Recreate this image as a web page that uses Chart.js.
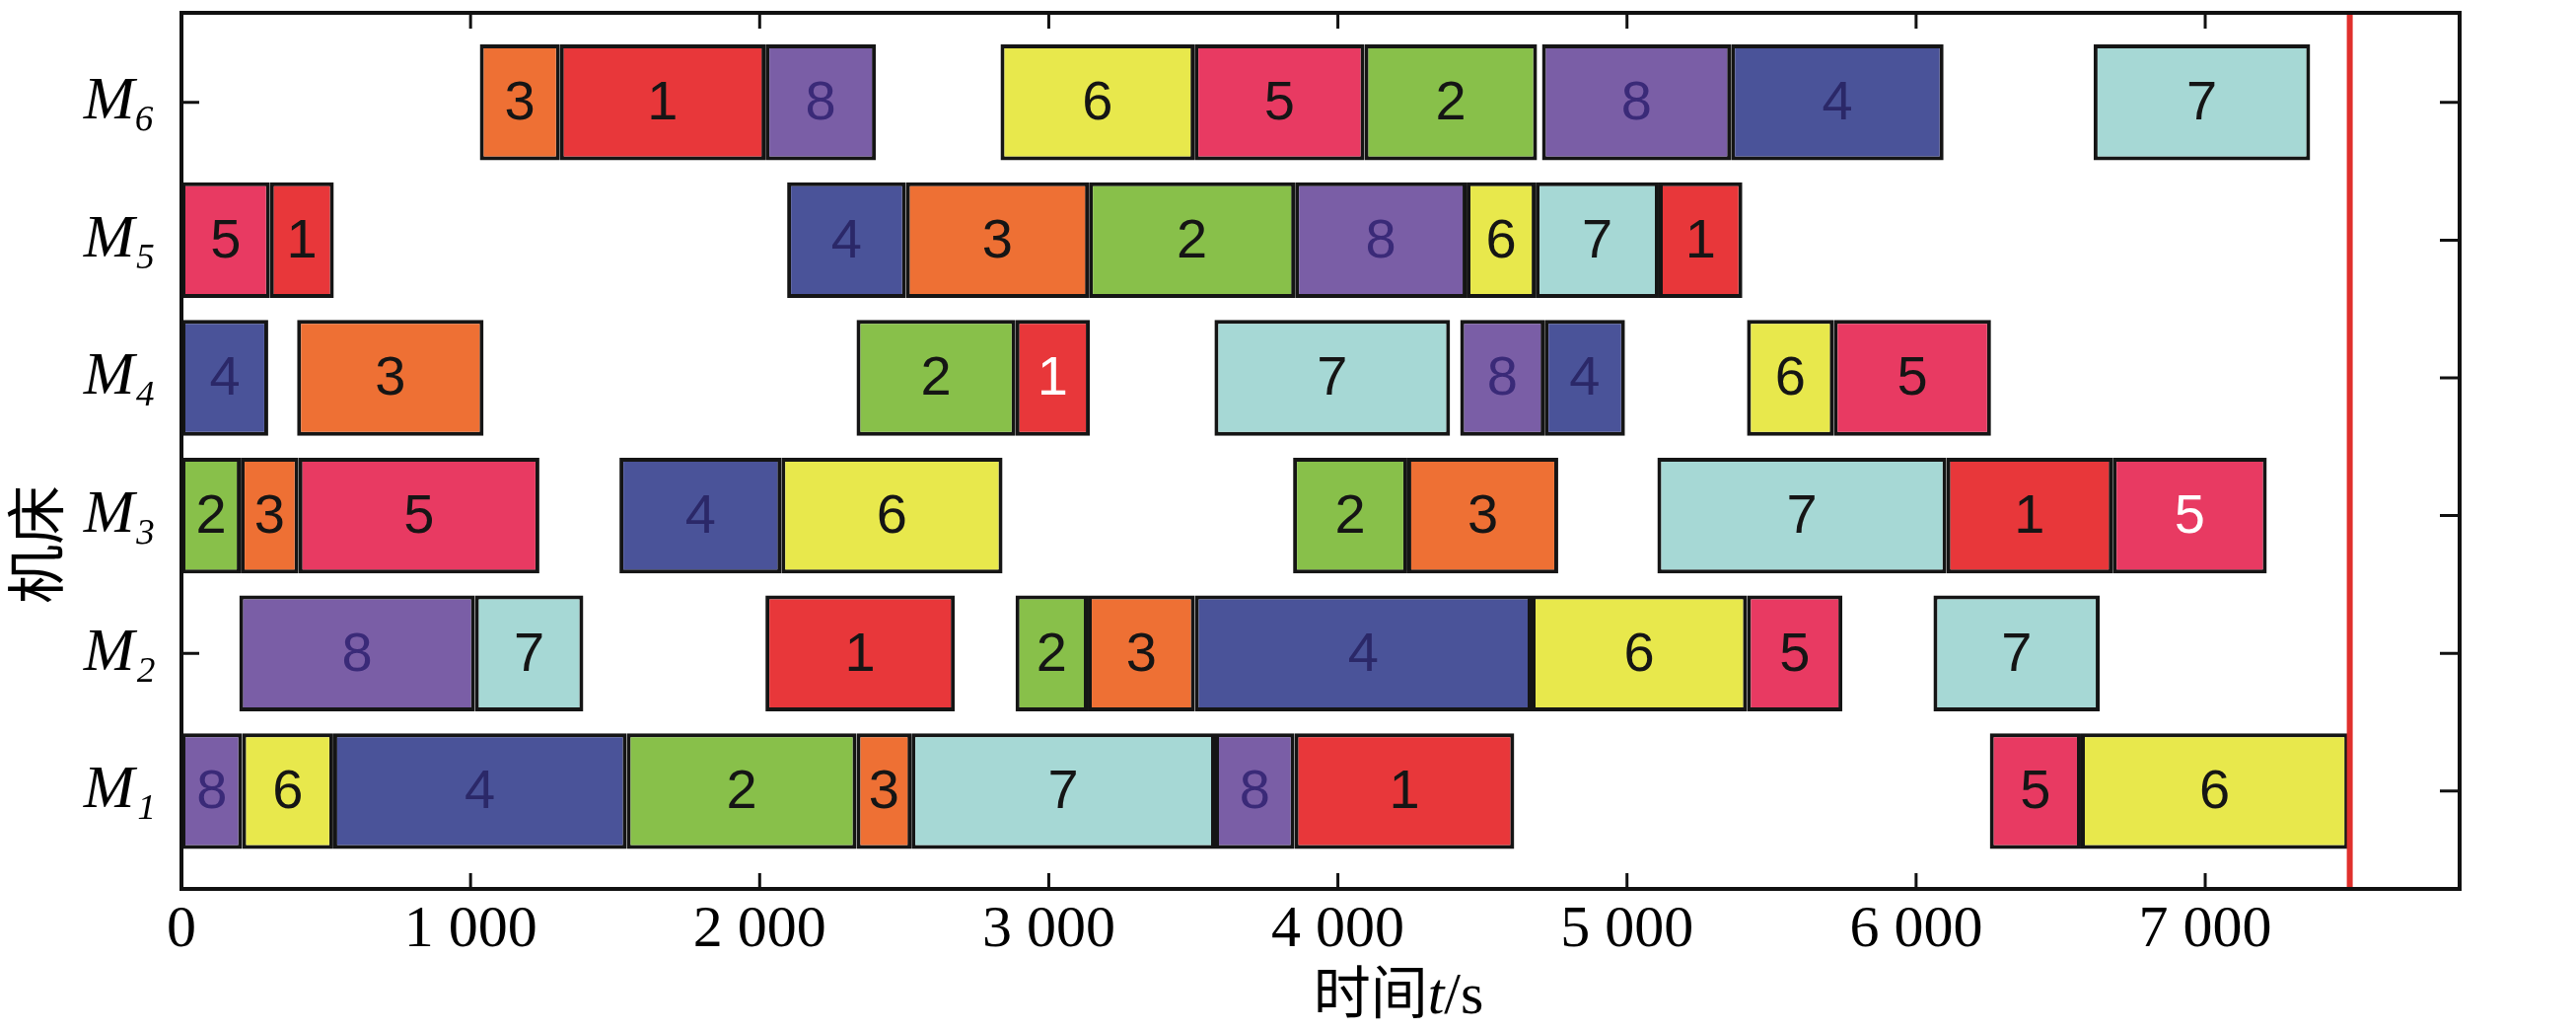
<!DOCTYPE html>
<html>
<head>
<meta charset="utf-8">
<script src="https://cdn.jsdelivr.net/npm/chart.js@4.4.1/dist/chart.umd.min.js"></script>
<style>
  html, body { margin: 0; padding: 0; background: #ffffff; }
  #wrap { width: 2612px; height: 1045px; position: relative; }
</style>
</head>
<body>
<div id="wrap"><canvas id="chart"></canvas></div>
<script>
// ---------------- data ----------------
const machines = ['M1', 'M2', 'M3', 'M4', 'M5', 'M6'];
const machineLabels = ['M\u2081', 'M\u2082', 'M\u2083', 'M\u2084', 'M\u2085', 'M\u2086'];
const jobs = [1, 2, 3, 4, 5, 6, 7, 8];
const xTicks = [0, 1000, 2000, 3000, 4000, 5000, 6000, 7000];
const xMax = 7880;
const makespan = 7500;

const m1Jobs  = [8, 6, 4, 2, 3, 7, 8, 1, 5, 6];
const m1Start = [0, 210, 525, 1540, 2335, 2525, 3575, 3850, 6255, 6570];
const m1End   = [210, 525, 1540, 2335, 2525, 3575, 3850, 4610, 6570, 7495];

const m2Jobs  = [8, 7, 1, 2, 3, 4, 6, 5, 7];
const m2Start = [200, 1015, 2020, 2885, 3135, 3505, 4670, 5415, 6060];
const m2End   = [1015, 1390, 2675, 3135, 3505, 4670, 5415, 5745, 6635];

const m3Jobs  = [2, 3, 5, 4, 6, 2, 3, 7, 1, 5];
const m3Start = [0, 205, 405, 1515, 2075, 3845, 4240, 5105, 6105, 6680];
const m3End   = [205, 405, 1238, 2075, 2840, 4240, 4762, 6105, 6680, 7213];

const m4Jobs  = [4, 3, 2, 1, 7, 8, 4, 6, 5];
const m4Start = [0, 400, 2335, 2885, 3573, 4423, 4715, 5415, 5715];
const m4End   = [300, 1045, 2885, 3142, 4388, 4715, 4993, 5715, 6259];

const m5Jobs  = [5, 1, 4, 3, 2, 8, 6, 7, 1];
const m5Start = [0, 306, 2095, 2506, 3139, 3852, 4445, 4684, 5110];
const m5End   = [306, 527, 2506, 3139, 3852, 4445, 4684, 5110, 5399];

const m6Jobs  = [3, 1, 8, 6, 5, 2, 8, 4, 7];
const m6Start = [1032, 1309, 2020, 2833, 3504, 4092, 4706, 5360, 6614];
const m6End   = [1309, 2020, 2402, 3504, 4092, 4689, 5360, 6095, 7363];

// ---------------- styles ----------------
const jobColors = ['#E8373A', '#88C04A', '#EE7034', '#4A5399', '#E83A62', '#E8E84C', '#A6D8D5', '#7A5EA6'];
const jobTextColors = ['#151515', '#151515', '#151515', '#2B2868', '#151515', '#151515', '#151515', '#3A2A78'];
const whiteTextKeys = new Set(['M4:2885', 'M3:6680']);

const machineTables = [
  [m1Jobs, m1Start, m1End],
  [m2Jobs, m2Start, m2End],
  [m3Jobs, m3Start, m3End],
  [m4Jobs, m4Start, m4End],
  [m5Jobs, m5Start, m5End],
  [m6Jobs, m6Start, m6End]
];

const datasets = jobs.map((job, ji) => {
  const data = [];
  machineTables.forEach(([js, ss, es], mi) => {
    js.forEach((j, k) => {
      if (j === job) data.push({ x: [ss[k], es[k]], y: mi + 1, job: j, machine: machines[mi] });
    });
  });
  return {
    label: '工件' + job,
    data,
    backgroundColor: jobColors[ji],
    borderColor: '#151515',
    borderWidth: 4,
    borderSkipped: false,
    grouped: false,
    barPercentage: 0.84,
    categoryPercentage: 1.0
  };
});

const decor = {
  id: 'decor',
  beforeDatasetsDraw(chart) {
    const { ctx, chartArea: a, scales: { x, y } } = chart;
    ctx.save();
    ctx.strokeStyle = '#111111';
    ctx.lineWidth = 3;
    ctx.beginPath();
    xTicks.forEach(v => {
      if (v <= x.min) return;
      const px = x.getPixelForValue(v);
      ctx.moveTo(px, a.bottom); ctx.lineTo(px, a.bottom - 16);
      ctx.moveTo(px, a.top); ctx.lineTo(px, a.top + 16);
    });
    machines.forEach((m, i) => {
      const py = y.getPixelForValue(i + 1);
      ctx.moveTo(a.left, py); ctx.lineTo(a.left + 18, py);
      ctx.moveTo(a.right, py); ctx.lineTo(a.right - 20, py);
    });
    ctx.stroke();
    ctx.restore();
  },
  afterDatasetsDraw(chart) {
    const { ctx, chartArea: a, scales: { x } } = chart;
    ctx.save();
    ctx.font = '56px "Liberation Sans Narrow", "Liberation Sans", Arial, sans-serif';
    ctx.textAlign = 'center';
    ctx.textBaseline = 'middle';
    chart.data.datasets.forEach((ds, di) => {
      const meta = chart.getDatasetMeta(di);
      meta.data.forEach((el, k) => {
        const p = el.getProps(['x', 'base', 'y'], true);
        const item = ds.data[k];
        const key = item.machine + ':' + item.x[0];
        ctx.fillStyle = whiteTextKeys.has(key) ? '#ffffff' : jobTextColors[di];
        ctx.fillText(String(item.job), (p.x + p.base) / 2, p.y + 2);
      });
    });
    const rx = x.getPixelForValue(makespan);
    ctx.strokeStyle = '#E0302C';
    ctx.lineWidth = 6;
    ctx.beginPath();
    ctx.moveTo(rx, a.top); ctx.lineTo(rx, a.bottom);
    ctx.stroke();
    ctx.strokeStyle = '#111111';
    ctx.lineWidth = 4;
    ctx.strokeRect(a.left, a.top, a.right - a.left, a.bottom - a.top);
    ctx.restore();
  },
  afterDraw(chart) {
    const { ctx } = chart;
    ctx.save();
    ctx.fillStyle = '#000000';
    const parts = [
      { t: '时间', f: '58px "Noto Sans CJK SC", sans-serif' },
      { t: 't', f: 'italic 60px "Liberation Serif", serif' },
      { t: '/s', f: '60px "Liberation Serif", serif' }
    ];
    let total = 0;
    parts.forEach(p => { ctx.font = p.f; p.w = ctx.measureText(p.t).width; total += p.w; });
    let sx = 1418 - total / 2;
    ctx.textBaseline = 'alphabetic';
    ctx.textAlign = 'left';
    parts.forEach(p => { ctx.font = p.f; ctx.fillText(p.t, sx, 1027); sx += p.w; });
    ctx.translate(36, 552);
    ctx.rotate(-Math.PI / 2);
    ctx.font = '60px "Noto Sans CJK SC", sans-serif';
    ctx.textAlign = 'center';
    ctx.textBaseline = 'middle';
    ctx.fillText('机床', 0, 0);
    ctx.restore();
  }
};

new Chart(document.getElementById('chart'), {
  type: 'bar',
  data: { datasets },
  options: {
    indexAxis: 'y',
    responsive: true,
    maintainAspectRatio: false,
    animation: false,
    layout: { padding: { left: 0, right: 118, top: 13, bottom: 0 } },
    plugins: { legend: { display: false }, tooltip: { enabled: false } },
    scales: {
      x: {
        type: 'linear',
        position: 'bottom',
        min: 0,
        max: xMax,
        offset: false,
        grid: { display: false, drawTicks: false },
        border: { display: false },
        afterBuildTicks: s => { s.ticks = xTicks.map(v => ({ value: v })); },
        afterFit: s => { s.height = 144; s.paddingLeft = 0; s.paddingRight = 0; },
        ticks: {
          autoSkip: false,
          maxRotation: 0,
          padding: 6,
          color: '#000000',
          font: { family: '"Liberation Serif", serif', size: 60 },
          callback: v => String(v).replace(/\B(?=(\d{3})+(?!\d))/g, ' ')
        }
      },
      y: {
        type: 'linear',
        position: 'left',
        min: 0.29,
        max: 6.65,
        offset: false,
        grid: { display: false, drawTicks: false },
        border: { display: false },
        afterBuildTicks: s => { s.ticks = machines.map((m, i) => ({ value: i + 1 })); },
        afterFit: s => { s.width = 184; s.paddingTop = 0; s.paddingBottom = 0; },
        ticks: {
          autoSkip: false,
          padding: 26,
          color: '#000000',
          font: { family: '"Liberation Serif", serif', size: 62, style: 'italic' },
          callback: v => machineLabels[Math.round(v) - 1] || ''
        }
      }
    }
  },
  plugins: [decor]
});
</script>
</body>
</html>
